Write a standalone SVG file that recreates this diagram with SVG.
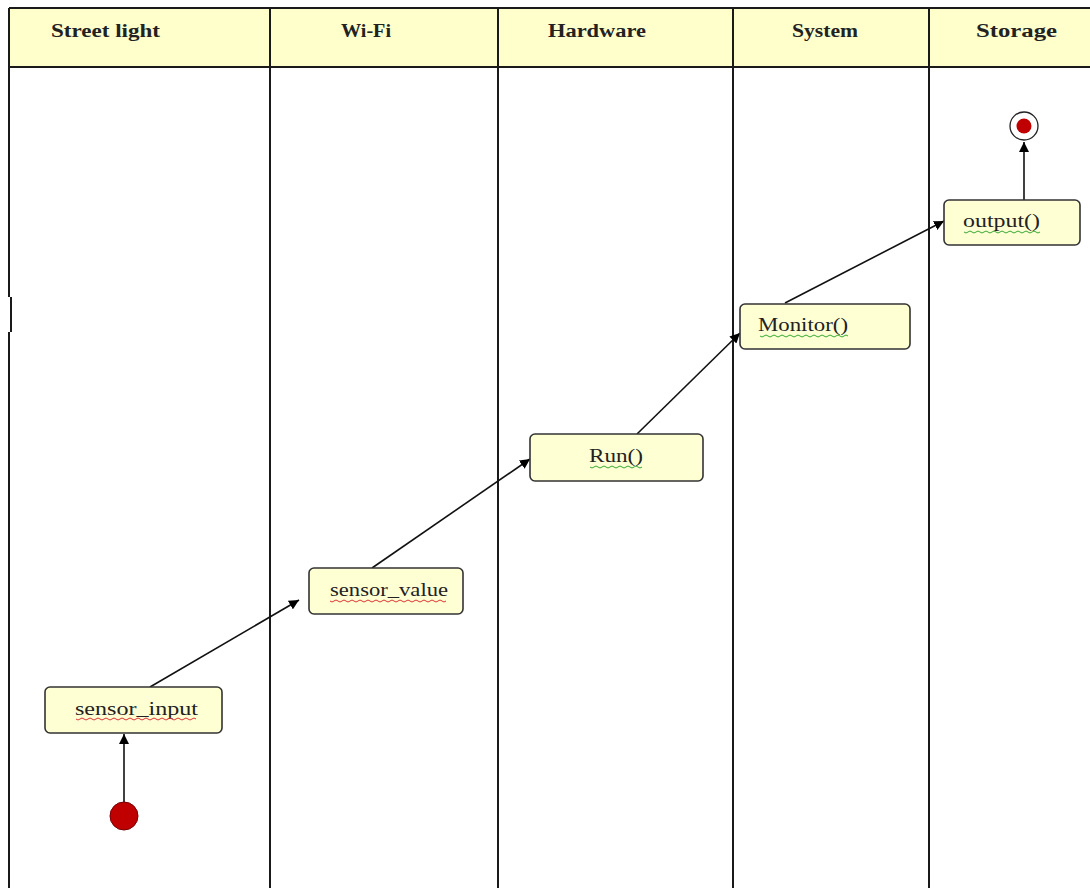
<svg xmlns="http://www.w3.org/2000/svg" width="1090" height="888" viewBox="0 0 1090 888">
<defs>
<marker id="ah" viewBox="0 0 10 10" refX="10" refY="5" markerWidth="10" markerHeight="10" markerUnits="userSpaceOnUse" orient="auto">
<path d="M0,0 L10,5 L0,10 z" fill="#000"/>
</marker>
<style>
.hdr{fill:#ffffcc;stroke:none}
.lane{stroke:#1a1a1a;stroke-width:2;fill:none}
.ht{font-family:"Liberation Serif",serif;font-weight:bold;font-size:18px;fill:#222}
.node{fill:#ffffd4;stroke:#333;stroke-width:1.6}
.nt{font-family:"Liberation Serif",serif;font-size:18px;fill:#222}
.edge{stroke:#111;stroke-width:1.6;fill:none;marker-end:url(#ah)}
.sqr{stroke:#d33;stroke-width:1;fill:none}
.sqg{stroke:#3a3;stroke-width:1;fill:none}
</style>
</defs>
<rect width="1090" height="888" fill="#fff"/>
<g id="lanes">
<rect class="hdr" x="9" y="8" width="1081" height="59"/>
<path class="lane" d="M9,8 H1090 M9,67 H1090"/>
<path class="lane" d="M9,8 V297 M11,297 V332 M9,332 V888"/>
<path class="lane" d="M270,8 V888 M498,8 V888 M733,8 V888 M929,8 V888"/>
<text class="ht" x="51" y="37" textLength="109" lengthAdjust="spacingAndGlyphs">Street light</text>
<text class="ht" x="341" y="37" textLength="50" lengthAdjust="spacingAndGlyphs">Wi-Fi</text>
<text class="ht" x="548" y="37" textLength="98" lengthAdjust="spacingAndGlyphs">Hardware</text>
<text class="ht" x="792" y="37" textLength="66" lengthAdjust="spacingAndGlyphs">System</text>
<text class="ht" x="976" y="37" textLength="81" lengthAdjust="spacingAndGlyphs">Storage</text>
</g>
<g id="connectors">
<line class="edge" x1="124" y1="802" x2="124" y2="734"/>
<line class="edge" x1="150" y1="687" x2="299" y2="600"/>
<line class="edge" x1="372" y1="568" x2="530" y2="459"/>
<line class="edge" x1="637" y1="434" x2="740" y2="333"/>
<line class="edge" x1="785" y1="303" x2="944" y2="221"/>
<line class="edge" x1="1024" y1="200" x2="1024" y2="142"/>
</g>
<g id="start">
<circle cx="124" cy="816" r="14" fill="#c00000" stroke="#700" stroke-width="1"/>
</g>
<g id="end">
<circle cx="1024" cy="126" r="14" fill="#fff" stroke="#222" stroke-width="1.3"/>
<circle cx="1024" cy="126" r="7.5" fill="#c00000"/>
</g>
<g id="sensor_input">
<rect class="node" x="45" y="687" width="177" height="46" rx="5"/>
<text class="nt" x="75" y="715" textLength="123" lengthAdjust="spacingAndGlyphs">sensor_input</text>
<path class="sqr" d="M76,719 q2,2 4,0 t4,0 t4,0 t4,0 t4,0 t4,0 t4,0 t4,0 t4,0 t4,0 t4,0 t4,0 t4,0 t4,0 t4,0 t4,0 t4,0 t4,0 t4,0 t4,0 t4,0 t4,0 t4,0 t4,0 t4,0 t4,0 t4,0 t4,0 t4,0 t4,0"/>
</g>
<g id="sensor_value">
<rect class="node" x="309" y="568" width="154" height="46" rx="5"/>
<text class="nt" x="330" y="596" textLength="118" lengthAdjust="spacingAndGlyphs">sensor_value</text>
<path class="sqr" d="M330,601 q2,2 4,0 t4,0 t4,0 t4,0 t4,0 t4,0 t4,0 t4,0 t4,0 t4,0 t4,0 t4,0 t4,0 t4,0 t4,0 t4,0 t4,0 t4,0 t4,0 t4,0 t4,0 t4,0 t4,0 t4,0 t4,0 t4,0 t4,0 t4,0 t4,0"/>
</g>
<g id="run">
<rect class="node" x="530" y="434" width="173" height="47" rx="5"/>
<text class="nt" x="589" y="462" textLength="54" lengthAdjust="spacingAndGlyphs">Run()</text>
<path class="sqg" d="M590,467 q2,2 4,0 t4,0 t4,0 t4,0 t4,0 t4,0 t4,0 t4,0 t4,0 t4,0 t4,0 t4,0 t4,0"/>
</g>
<g id="monitor">
<rect class="node" x="740" y="304" width="170" height="45" rx="5"/>
<text class="nt" x="758" y="331" textLength="90" lengthAdjust="spacingAndGlyphs">Monitor()</text>
<path class="sqg" d="M760,336 q2,2 4,0 t4,0 t4,0 t4,0 t4,0 t4,0 t4,0 t4,0 t4,0 t4,0 t4,0 t4,0 t4,0 t4,0 t4,0 t4,0 t4,0 t4,0 t4,0 t4,0 t4,0 t4,0"/>
</g>
<g id="output">
<rect class="node" x="944" y="200" width="136" height="45" rx="5"/>
<text class="nt" x="963" y="227" textLength="77" lengthAdjust="spacingAndGlyphs">output()</text>
<path class="sqg" d="M964,232 q2,2 4,0 t4,0 t4,0 t4,0 t4,0 t4,0 t4,0 t4,0 t4,0 t4,0 t4,0 t4,0 t4,0 t4,0 t4,0 t4,0 t4,0 t4,0 t4,0"/>
</g>
</svg>
